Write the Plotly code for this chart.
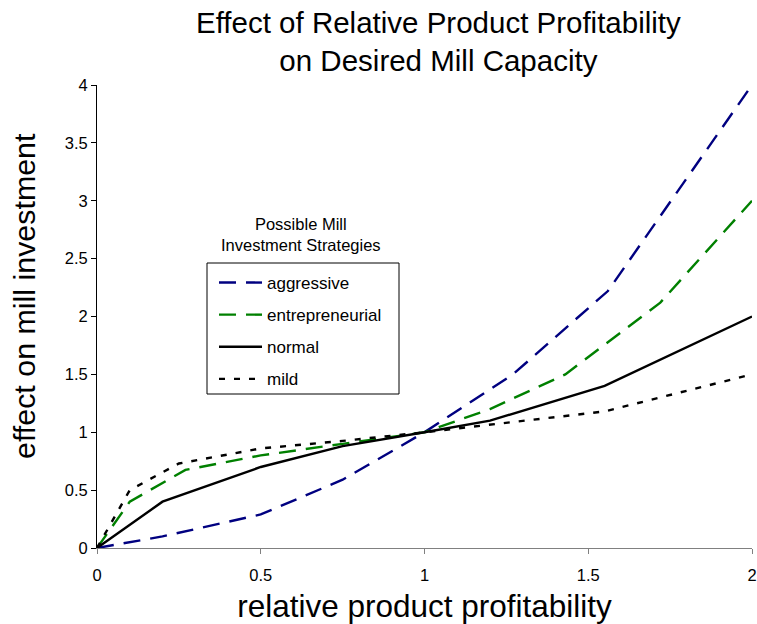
import plotly.graph_objects as go

# Lookup tables: relative product profitability -> effect on mill investment
aggressive_x = [0, 0.2, 0.5, 0.75, 1.0, 1.27, 1.56, 2.0]
aggressive_y = [0, 0.1, 0.29, 0.59, 1.0, 1.5, 2.22, 4.0]

entrepreneurial_x = [0, 0.1, 0.27, 0.5, 0.75, 1.0, 1.2, 1.43, 1.72, 2.0]
entrepreneurial_y = [0, 0.4, 0.675, 0.8, 0.9, 1.0, 1.2, 1.5, 2.12, 3.0]

normal_x = [0, 0.2, 0.5, 0.75, 1.0, 1.2, 1.55, 2.0]
normal_y = [0, 0.4, 0.7, 0.88, 1.0, 1.1, 1.4, 2.0]

mild_x = [0, 0.1, 0.25, 0.5, 0.75, 1.0, 1.55, 2.0]
mild_y = [0, 0.5, 0.73, 0.86, 0.925, 1.0, 1.18, 1.5]

x_ticks = [0, 0.5, 1, 1.5, 2]
y_ticks = [0, 0.5, 1, 1.5, 2, 2.5, 3, 3.5, 4]

FONT = "Arial, Liberation Sans, sans-serif"

# plot area in pixels
L, R, T, B = 97, 752, 85, 548
PW, PH = R - L, B - T


def px_x(p):
    return (p - L) / PW


def px_y(p):
    return (B - p) / PH


series = [
    ("aggressive", aggressive_x, aggressive_y, "#000080", "17px,10px"),
    ("entrepreneurial", entrepreneurial_x, entrepreneurial_y, "#008000", "17px,10px"),
    ("normal", normal_x, normal_y, "#000000", "solid"),
    ("mild", mild_x, mild_y, "#000000", "6px,9px"),
]

fig = go.Figure()
for name, xs, ys, color, dash in series:
    fig.add_trace(go.Scatter(
        x=xs, y=ys, mode="lines", name=name, legendgroup=name,
        line=dict(color=color, width=2.4, dash=dash),
        hoverinfo="skip",
    ))

fig.update_layout(
    width=757, height=624,
    margin=dict(l=L, r=757 - R, t=T, b=624 - B, autoexpand=False),
    paper_bgcolor="white", plot_bgcolor="white",
    font=dict(family=FONT, color="black"),
    showlegend=True,
    legend=dict(
        x=px_x(214), y=px_y(265),
        xanchor="left", yanchor="top",
        borderwidth=0, bgcolor="rgba(0,0,0,0)",
        font=dict(size=17, family=FONT, color="black"),
        tracegroupgap=7, traceorder="grouped",
        itemwidth=43,
    ),
    xaxis=dict(
        range=[0, 2], tickvals=x_ticks, ticktext=[f"{v:g}" for v in x_ticks],
        showgrid=False, zeroline=False, automargin=False,
        showline=True, linecolor="#808080", linewidth=1,
        ticks="outside", ticklen=5, tickcolor="#808080",
        ticklabelstandoff=7,
        tickfont=dict(size=16.5, family=FONT, color="black"),
        title=dict(text="relative product profitability",
                   font=dict(size=31.5, family=FONT, color="black"), standoff=14),
    ),
    yaxis=dict(
        range=[0, 4], tickvals=y_ticks, ticktext=[f"{v:g}" for v in y_ticks],
        showgrid=False, zeroline=False, automargin=False,
        showline=True, linecolor="black", linewidth=1,
        ticks="outside", ticklen=5, tickcolor="black",
        tickfont=dict(size=16.5, family=FONT, color="black"),
    ),
    shapes=[
        # legend frame
        dict(type="rect", xref="paper", yref="paper",
             x0=px_x(207), x1=px_x(399), y0=px_y(394), y1=px_y(263),
             line=dict(color="black", width=1), fillcolor="rgba(0,0,0,0)",
             layer="above"),
    ],
    annotations=[
        dict(text="Effect of Relative Product Profitability<br>on Desired Mill Capacity",
             xref="paper", yref="paper",
             x=px_x(438), y=px_y(4), xanchor="center", yanchor="top",
             showarrow=False,
             font=dict(size=29.5, family=FONT, color="black")),
        dict(text="effect on mill investment", textangle=-90,
             xref="paper", yref="paper",
             x=px_x(24), y=px_y(296),
             xanchor="center", yanchor="middle", showarrow=False,
             font=dict(size=30.4, family=FONT, color="black")),
        dict(text="Possible Mill<br>Investment Strategies",
             xref="paper", yref="paper",
             x=px_x(301), y=px_y(234),
             xanchor="center", yanchor="middle", showarrow=False,
             font=dict(size=16.5, family=FONT, color="black")),
    ],
)

fig.write_html("out.html")
